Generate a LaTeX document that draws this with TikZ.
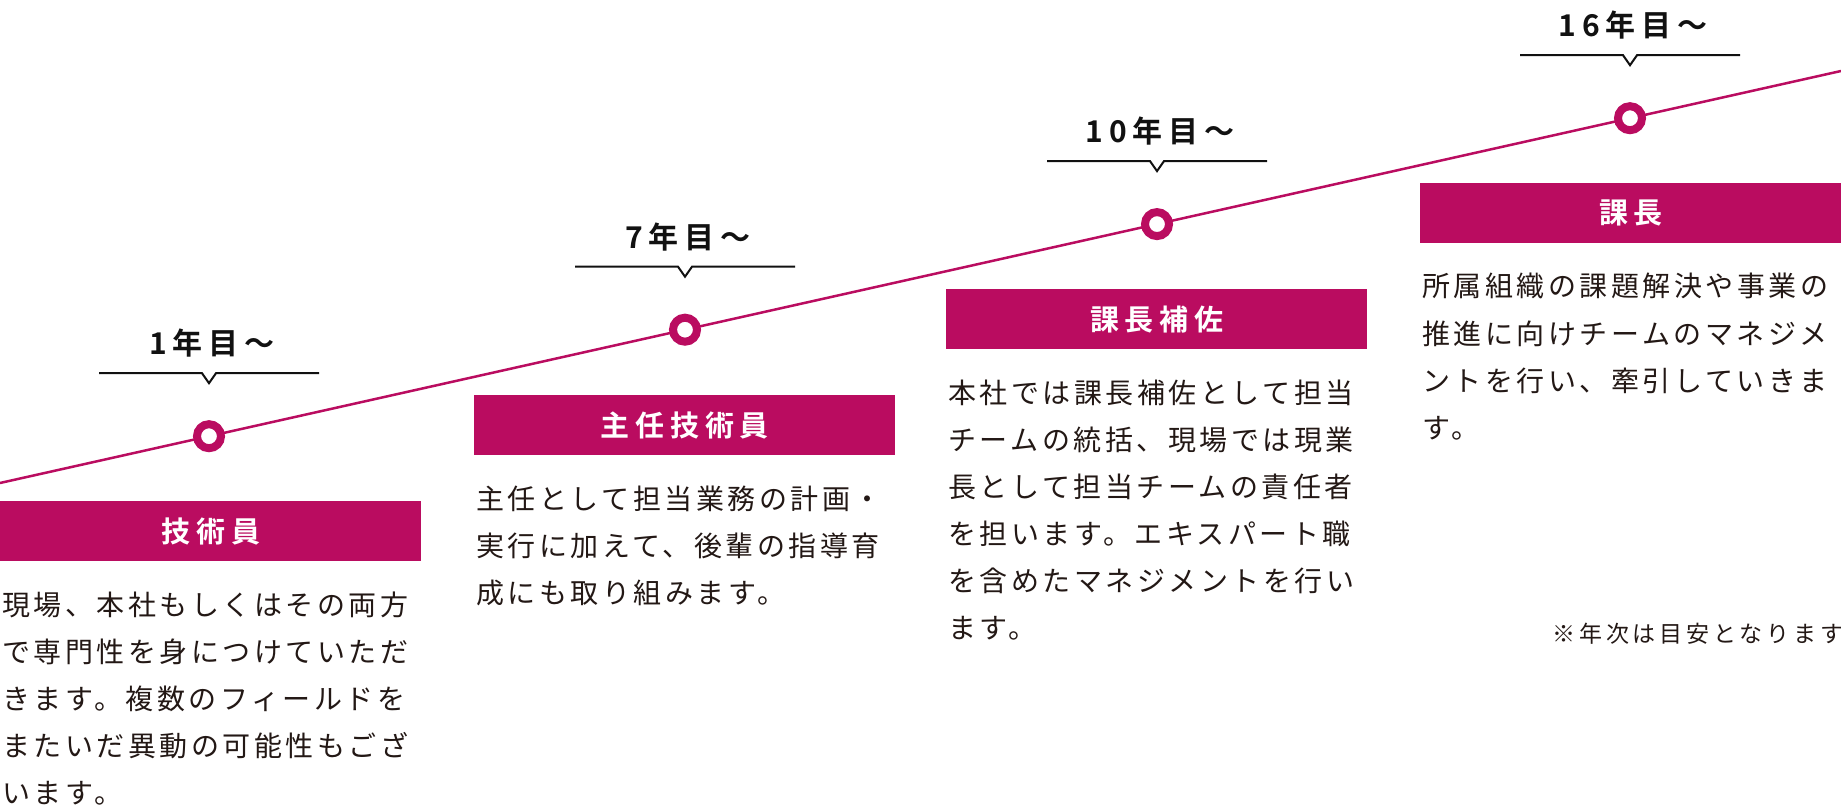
\documentclass[tikz,border=0pt]{standalone}
\usepackage{fontspec}
\newfontfamily\jpbody{Noto Sans CJK JP}[LetterSpace=12.5]
\newfontfamily\jptitle{Noto Sans CJK JP Bold}[LetterSpace=20]
\newfontfamily\jpnote{Noto Sans CJK JP}[LetterSpace=17]
\definecolor{mag}{HTML}{BA0C60}
\definecolor{ink}{HTML}{231815}
\definecolor{yrc}{HTML}{111111}
\begin{document}
\begin{tikzpicture}[x=0.5pt,y=-0.5pt,
  tl/.style={draw=mag,line width=1.25pt},
  brk/.style={draw=yrc,line width=1pt},
  dot/.style={circle,draw=mag,line width=4pt,fill=white,minimum size=12pt,inner sep=0pt},
  yr/.style={font=\jptitle\fontsize{15pt}{18pt}\selectfont,text=yrc,inner sep=0pt,anchor=base},
  rolebox/.style={fill=mag,minimum width=210.5pt,minimum height=30pt,inner sep=0pt,anchor=north west,
    font=\jptitle\fontsize{14.5pt}{17pt}\selectfont,text=white},
  body/.style={font=\jpbody\fontsize{14pt}{23.5pt}\selectfont,text=ink,align=left,inner sep=0pt,anchor=base west},
  note/.style={font=\jpnote\fontsize{11.5pt}{14pt}\selectfont,text=ink,inner sep=0pt,anchor=base east}]
\useasboundingbox (0,0) rectangle (1841,812);
\fill[white] (0,0) rectangle (1841,812);
% timeline
\coordinate (ls) at (0,483);
\coordinate (le) at (1841,71);
\draw[tl] (ls) -- (le);
% milestones
\node[dot] (c1) at (209,436.2) {};
\node[dot] (c2) at (685,329.7) {};
\node[dot] (c3) at (1157,224.1) {};
\node[dot] (c4) at (1630,118.2) {};
% brackets
\foreach \c in {c1,c2,c3,c4}{
  \draw[brk] ([shift={(-110,-63)}]\c.center) -- ++(103,0) -- ++(7,10) -- ++(7,-10) -- ++(103,0);
}
% years
\node[yr] (y1) at (212,355) {1年目〜};
\node[yr] (y2) at (688,249) {7年目〜};
\node[yr] (y3) at (1160,143) {10年目〜};
\node[yr] (y4) at (1633,37) {16年目〜};
% role boxes
\node[rolebox] (b1) at (0,501) {技術員};
\node[rolebox] (b2) at (474,395) {主任技術員};
\node[rolebox] (b3) at (946,289) {課長補佐};
\node[rolebox] (b4) at (1420,183) {課長};
% descriptions (base anchor = baseline of last line)
\node[body] (t1) at (2,803) {現場、本社もしくはその両方\\で専門性を身につけていただ\\きます。複数のフィールドを\\またいだ異動の可能性もござ\\います。};
\node[body] (t2) at (476,603) {主任として担当業務の計画・\\実行に加えて、後輩の指導育\\成にも取り組みます。};
\node[body] (t3) at (948,638) {本社では課長補佐として担当\\チームの統括、現場では現業\\長として担当チームの責任者\\を担います。エキスパート職\\を含めたマネジメントを行い\\ます。};
\node[body] (t4) at (1422,438) {所属組織の課題解決や事業の\\推進に向けチームのマネジメ\\ントを行い、牽引していきま\\す。};
\node[note] (n1) at (1844,642) {※年次は目安となります};
\end{tikzpicture}
\end{document}
